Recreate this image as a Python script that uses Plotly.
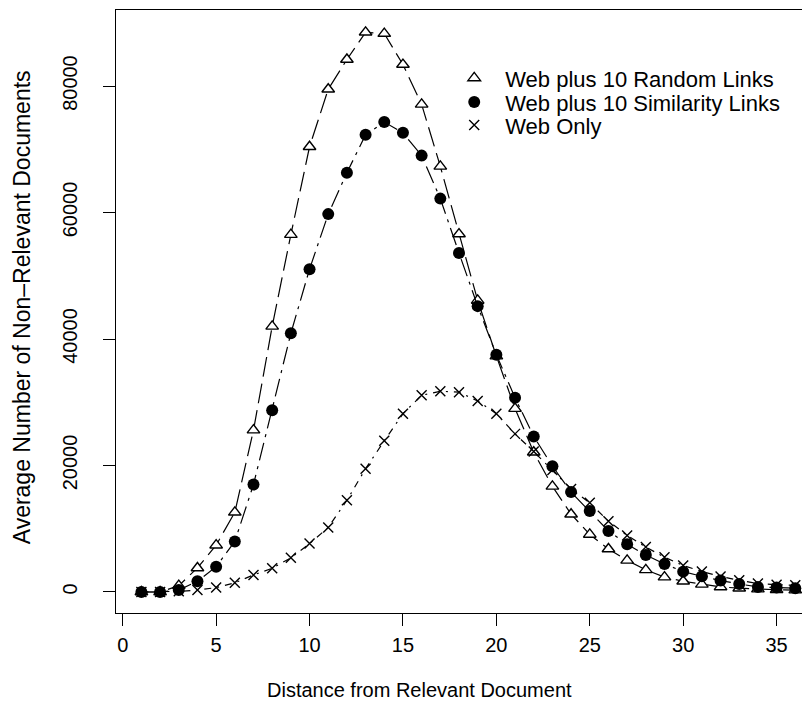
import plotly.graph_objects as go

# Distance (in links) from the relevant document
distance = list(range(1, 37))

# Average number of non-relevant documents at each distance
random_links = [0, 0, 1000, 3800, 7400, 12600, 25600, 42000, 56500, 70400,
                79500, 84200, 88500, 88300, 83400, 77100, 67300, 56600, 46100, 37300,
                29000, 22100, 16700, 12300, 9100, 6800, 5000, 3500, 2350, 1700,
                1200, 800, 600, 450, 350, 300]
similarity_links = [0, 0, 300, 1700, 4000, 8000, 17000, 28750, 40900, 51050,
                    59750, 66300, 72300, 74300, 72600, 69000, 62200, 53600, 45200, 37500,
                    30700, 24600, 19900, 15800, 12800, 9650, 7550, 5850, 4430, 3220,
                    2480, 1800, 1270, 800, 700, 600]
web_only = [0, 0, 100, 300, 700, 1450, 2700, 3750, 5400, 7650,
            10200, 14500, 19500, 23900, 28200, 31100, 31750, 31600, 30200, 28200,
            25000, 22200, 19300, 16300, 14100, 11200, 8950, 7100, 5500, 4200,
            3250, 2450, 1850, 1330, 1150, 1050]

x_ticks = [0, 5, 10, 15, 20, 25, 30, 35]
y_ticks = [0, 20000, 40000, 60000, 80000]

x_title = "Distance from Relevant Document"
y_title = "Average Number of Non\u2013Relevant Documents"

FONT = "Liberation Sans, Arial, Helvetica, sans-serif"
BLACK = "black"

series = [
    ("Web plus 10 Random Links", random_links,
     dict(symbol="triangle-up", size=11, color="white", line=dict(color=BLACK, width=1.4)),
     "20px,7px", "legend"),
    ("Web plus 10 Similarity Links", similarity_links,
     dict(symbol="circle", size=12, color=BLACK, line=dict(color=BLACK, width=0)),
     "18px,6px,3px,6px", "legend2"),
    ("Web Only", web_only,
     dict(symbol="x-thin-open", size=10, color=BLACK, line=dict(color=BLACK, width=1.4)),
     "7px,6px,2px,6px", "legend3"),
]

fig = go.Figure()

for name, values, marker, dash, _ in series:
    fig.add_trace(go.Scatter(
        x=distance, y=values, mode="lines+markers", name=name,
        line=dict(color=BLACK, width=1.2, dash=dash),
        marker=marker, showlegend=False, cliponaxis=True,
    ))

# Legend entries show the point symbols only, one legend per row
for name, values, marker, dash, legend_id in series:
    fig.add_trace(go.Scatter(
        x=[None], y=[None], mode="markers", name=name, marker=marker,
        showlegend=True, legend=legend_id,
    ))

legend_style = dict(
    x=0.477, xanchor="left", yanchor="middle",
    bgcolor="rgba(0,0,0,0)", borderwidth=0,
    itemwidth=52, font=dict(size=22, family=FONT, color=BLACK),
)

fig.update_layout(
    width=802, height=722,
    margin=dict(l=116, r=0, t=10, b=109),
    paper_bgcolor="white", plot_bgcolor="white",
    font=dict(family=FONT, size=20, color=BLACK),
    showlegend=True,
    legend=dict(y=0.887, **legend_style),
    legend2=dict(y=0.847, **legend_style),
    legend3=dict(y=0.809, **legend_style),
    annotations=[
        dict(text=x_title, xref="paper", yref="paper", x=0.443, y=-0.127,
             xanchor="center", yanchor="middle", showarrow=False,
             font=dict(size=20)),
        dict(text=y_title, xref="paper", yref="paper", x=-0.137, y=0.507,
             xanchor="center", yanchor="middle", showarrow=False, textangle=-90,
             font=dict(size=23)),
    ],
)

fig.update_xaxes(
    range=[-0.36, 36.36], tickvals=x_ticks, ticktext=[str(v) for v in x_ticks],
    showgrid=False, zeroline=False,
    showline=True, mirror=True, linecolor=BLACK, linewidth=1.3,
    ticks="outside", ticklen=12, tickwidth=1.3, tickcolor=BLACK,
    tickfont=dict(size=20), ticklabelstandoff=2,
)
fig.update_yaxes(
    range=[-3322, 92025], tickvals=y_ticks, ticktext=[str(v) for v in y_ticks],
    showgrid=False, zeroline=False,
    showline=True, mirror=True, linecolor=BLACK, linewidth=1.3,
    ticks="outside", ticklen=12, tickwidth=1.3, tickcolor=BLACK,
    tickangle=-90, tickfont=dict(size=20), ticklabelstandoff=18,
)

fig.write_html("out.html")
